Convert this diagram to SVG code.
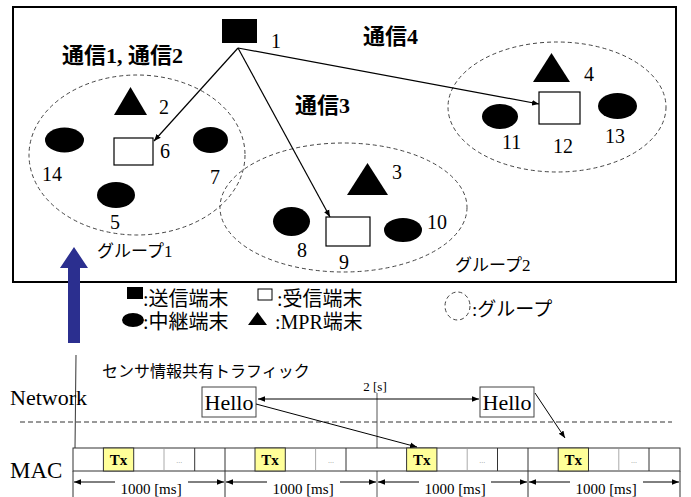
<svg xmlns="http://www.w3.org/2000/svg" width="691" height="497" viewBox="0 0 691 497">
<style>
.num{font-family:"Liberation Serif","Times New Roman",serif;font-size:20px;fill:#000}
.cj{font-family:"Liberation Serif","Noto Sans CJK JP",sans-serif;fill:#000}
.cjb{font-family:"Liberation Serif","Noto Sans CJK JP",sans-serif;font-weight:bold;font-size:22px;fill:#000}
.grp{fill:none;stroke:#444;stroke-width:1;stroke-dasharray:4 3}
.blk{fill:#000}
.wht{fill:#fff;stroke:#000;stroke-width:1.2}
.con{fill:none;stroke:#000;stroke-width:1.2}
.ser{font-family:"Liberation Serif","Times New Roman",serif;fill:#000}
.tx{fill:#ffff99;stroke:#333;stroke-width:1}
</style>
<defs>
<marker id="ah" viewBox="0 0 10 10" refX="10" refY="5" markerWidth="7" markerHeight="7" orient="auto-start-reverse" markerUnits="userSpaceOnUse">
<path d="M0,1 L10,5 L0,9 z" fill="#000"/>
</marker>
</defs>
<rect x="13" y="7" width="663" height="275" fill="#fff" stroke="#000" stroke-width="2"/>

<g id="groups">
<ellipse cx="137" cy="155" rx="108" ry="80" class="grp"/>
<ellipse cx="343.5" cy="207.5" rx="123.5" ry="64.5" class="grp"/>
<ellipse cx="557" cy="107" rx="109" ry="65" class="grp"/>
</g>

<text class="cjb" x="62" y="63">通信1, 通信2</text>
<text class="cjb" x="295" y="113">通信3</text>
<text class="cjb" x="363" y="44">通信4</text>
<text class="cj" x="97" y="257" font-size="17">グループ1</text>
<text class="cj" x="455" y="271" font-size="17">グループ2</text>

<g id="n1"><rect x="222" y="19" width="35" height="24" class="blk"/><text class="num" x="271" y="48">1</text></g>
<g id="n2"><polygon points="114,115 130.5,87 147,115" class="blk"/><text class="num" x="159" y="114">2</text></g>
<g id="n3"><polygon points="347,195 367.5,163 388,195" class="blk"/><text class="num" x="392" y="179">3</text></g>
<g id="n4"><polygon points="533,82 551.5,53 570,82" class="blk"/><text class="num" x="584" y="81">4</text></g>
<g id="n5"><ellipse cx="116" cy="195" rx="19" ry="13" class="blk"/><text class="num" x="110" y="229">5</text></g>
<g id="n6"><rect x="114" y="138" width="39" height="27" class="wht"/><text class="num" x="160" y="158">6</text></g>
<g id="n7"><ellipse cx="210.5" cy="140" rx="17.5" ry="13" class="blk"/><text class="num" x="210" y="184">7</text></g>
<g id="n8"><ellipse cx="291.5" cy="221.5" rx="18.5" ry="14.5" class="blk"/><text class="num" x="297" y="257">8</text></g>
<g id="n9"><rect x="326" y="217" width="44" height="29" class="wht"/><text class="num" x="339" y="269">9</text></g>
<g id="n10"><ellipse cx="403" cy="230" rx="19" ry="12" class="blk"/><text class="num" x="427" y="229">10</text></g>
<g id="n11"><ellipse cx="500" cy="116.5" rx="18" ry="12.5" class="blk"/><text class="num" x="502" y="149">11</text></g>
<g id="n12"><rect x="539" y="92" width="41" height="32" class="wht"/><text class="num" x="553" y="153">12</text></g>
<g id="n13"><ellipse cx="617.5" cy="106" rx="19.5" ry="13" class="blk"/><text class="num" x="605" y="143">13</text></g>
<g id="n14"><ellipse cx="64.5" cy="140" rx="19.5" ry="12.5" class="blk"/><text class="num" x="42" y="181">14</text></g>

<g id="connectors">
<line x1="238" y1="48" x2="154" y2="141" class="con" marker-end="url(#ah)"/>
<line x1="238" y1="48" x2="330" y2="217" class="con" marker-end="url(#ah)"/>
<line x1="238" y1="48" x2="539" y2="104" class="con" marker-end="url(#ah)"/>
</g>

<g id="legend">
<rect x="127" y="287" width="16" height="12" class="blk"/>
<text class="cj" x="143" y="306" font-size="20">:送信端末</text>
<rect x="258" y="289" width="14" height="11" fill="#fff" stroke="#000" stroke-width="1"/>
<text class="cj" x="277" y="306" font-size="20">:受信端末</text>
<ellipse cx="133" cy="320" rx="11" ry="7" class="blk"/>
<text class="cj" x="143" y="329" font-size="20">:中継端末</text>
<polygon points="248,325 257.5,312 267,325" class="blk"/>
<text class="cj" x="275" y="329" font-size="20">:MPR端末</text>
<ellipse cx="457.5" cy="306" rx="12.5" ry="14" class="grp"/>
<text class="cj" x="472" y="316" font-size="19">:グループ</text>
</g>

<g id="traffic">
<polygon points="68,343 80,343 80,268 88,268 74,247 60,268 68,268" fill="#2b2f8f"/>
<line x1="76" y1="355" x2="75" y2="448" stroke="#333" stroke-width="1"/>
<text class="cj" x="102" y="377" font-size="16">センサ情報共有トラフィック</text>
</g>

<text class="ser" x="10" y="405" font-size="22">Network</text>
<text class="ser" x="10" y="478" font-size="23">MAC</text>
<line x1="20" y1="422" x2="672" y2="422" stroke="#333" stroke-width="1" stroke-dasharray="5 3"/>

<g id="hello1"><rect x="202" y="387" width="54" height="30" fill="#fff" stroke="#444" stroke-width="1"/><text class="ser" x="229" y="410" font-size="22" text-anchor="middle">Hello</text></g>
<g id="hello2"><rect x="480" y="387" width="54" height="30" fill="#fff" stroke="#444" stroke-width="1"/><text class="ser" x="507" y="410" font-size="22" text-anchor="middle">Hello</text></g>

<line x1="377" y1="393" x2="377" y2="497" stroke="#555" stroke-width="1"/>
<text class="ser" x="375" y="391" font-size="13" text-anchor="middle">2 [s]</text>

<g id="mac">
<rect x="73" y="448" width="607" height="23" fill="#fff" stroke="#333" stroke-width="1"/>
<rect x="103.4" y="448" width="30.3" height="23" class="tx"/>
<rect x="255" y="448" width="30.3" height="23" class="tx"/>
<rect x="406.6" y="448" width="30.3" height="23" class="tx"/>
<rect x="558.2" y="448" width="30.3" height="23" class="tx"/>
<g stroke="#333" stroke-width="1">
<line x1="225" y1="448" x2="225" y2="471"/><line x1="528" y1="448" x2="528" y2="471"/>
<line x1="194.7" y1="448" x2="194.7" y2="471"/><line x1="346" y1="448" x2="346" y2="471"/>
<line x1="497.5" y1="448" x2="497.5" y2="471"/><line x1="649" y1="448" x2="649" y2="471"/>
</g>
<g stroke="#aaa" stroke-width="1">
<line x1="164" y1="449" x2="164" y2="470"/>
<line x1="315.6" y1="449" x2="315.6" y2="470"/>
<line x1="467.2" y1="449" x2="467.2" y2="470"/>
<line x1="618.8" y1="449" x2="618.8" y2="470"/>
</g>
<g class="ser" font-size="15" font-weight="bold" text-anchor="middle">
<text x="118.5" y="465">Tx</text><text x="270" y="465">Tx</text><text x="421.7" y="465">Tx</text><text x="573.3" y="465">Tx</text>
</g>
<g class="ser" font-size="8" text-anchor="middle">
<text x="179.3" y="463" fill="#999">...</text><text x="331" y="463" fill="#999">...</text><text x="482.3" y="463" fill="#999">...</text><text x="634" y="463" fill="#999">...</text>
</g>
<g stroke="#333" stroke-width="1">
<line x1="73" y1="471" x2="73" y2="497"/><line x1="225" y1="471" x2="225" y2="497"/>
<line x1="528" y1="471" x2="528" y2="497"/><line x1="680" y1="471" x2="680" y2="497"/>
</g>
</g>

<g id="timeline" class="con">
<line x1="258" y1="399" x2="479" y2="399" marker-start="url(#ah)" marker-end="url(#ah)" stroke-width="1"/>
<line x1="256" y1="404" x2="417" y2="447" marker-end="url(#ah)" stroke-width="1"/>
<line x1="535" y1="393" x2="565" y2="438" marker-end="url(#ah)" stroke-width="1"/>
<line x1="74" y1="482" x2="115" y2="482" marker-start="url(#ah)" stroke-width="1"/>
<line x1="188" y1="482" x2="224" y2="482" marker-end="url(#ah)" stroke-width="1"/>
<line x1="226" y1="482" x2="267" y2="482" marker-start="url(#ah)" stroke-width="1"/>
<line x1="340" y1="482" x2="376" y2="482" marker-end="url(#ah)" stroke-width="1"/>
<line x1="378" y1="482" x2="419" y2="482" marker-start="url(#ah)" stroke-width="1"/>
<line x1="491" y1="482" x2="527" y2="482" marker-end="url(#ah)" stroke-width="1"/>
<line x1="529" y1="482" x2="570" y2="482" marker-start="url(#ah)" stroke-width="1"/>
<line x1="643" y1="482" x2="679" y2="482" marker-end="url(#ah)" stroke-width="1"/>
</g>
<g class="ser" font-size="15" text-anchor="middle">
<text x="151" y="494">1000 [ms]</text><text x="303" y="494">1000 [ms]</text><text x="455" y="494">1000 [ms]</text><text x="606" y="494">1000 [ms]</text>
</g>
</svg>
